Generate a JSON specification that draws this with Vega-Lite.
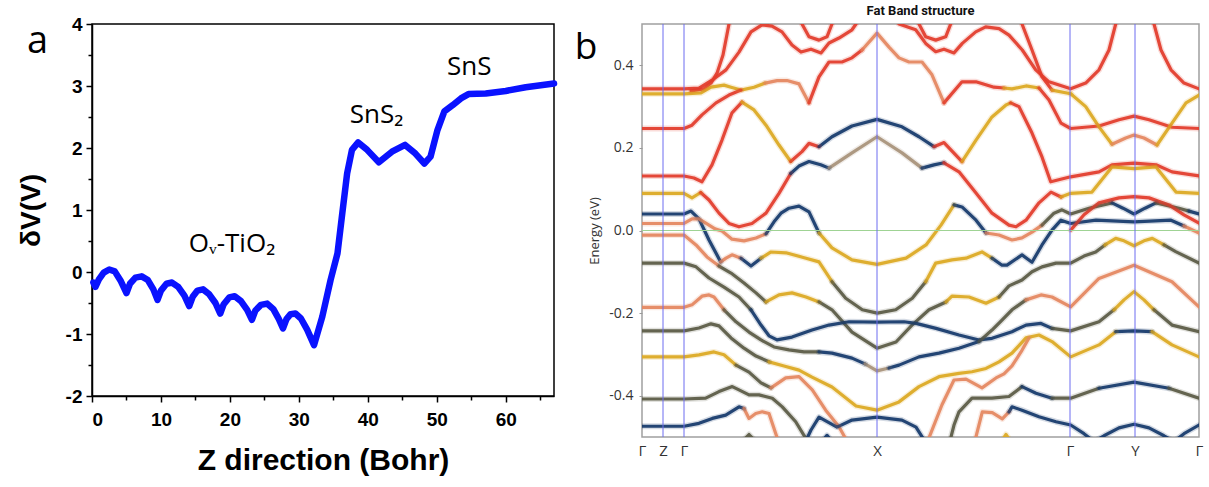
{
"$schema":"https://vega.github.io/schema/vega-lite/v6.json",
"background":"white",
"padding":{"left":16,"top":3,"right":0,"bottom":0},
"bounds":"flush",
"spacing":88,
"datasets":{
"dv":[{"z":0.2,"v":-0.17},{"z":0.5,"v":-0.24},{"z":1.0,"v":-0.12},{"z":1.7,"v":-0.01},{"z":2.5,"v":0.04},{"z":3.3,"v":0.01},{"z":4.2,"v":-0.15},{"z":5.0,"v":-0.34},{"z":5.5,"v":-0.19},{"z":6.3,"v":-0.09},{"z":7.2,"v":-0.07},{"z":8.1,"v":-0.13},{"z":8.9,"v":-0.28},{"z":9.5,"v":-0.45},{"z":10.0,"v":-0.30},{"z":10.8,"v":-0.19},{"z":11.6,"v":-0.17},{"z":12.5,"v":-0.24},{"z":13.4,"v":-0.38},{"z":14.1,"v":-0.55},{"z":14.6,"v":-0.40},{"z":15.3,"v":-0.30},{"z":16.1,"v":-0.28},{"z":17.0,"v":-0.36},{"z":17.9,"v":-0.50},{"z":18.6,"v":-0.67},{"z":19.1,"v":-0.52},{"z":19.9,"v":-0.41},{"z":20.7,"v":-0.39},{"z":21.6,"v":-0.47},{"z":22.5,"v":-0.61},{"z":23.2,"v":-0.77},{"z":23.7,"v":-0.62},{"z":24.5,"v":-0.53},{"z":25.4,"v":-0.51},{"z":26.3,"v":-0.60},{"z":27.1,"v":-0.76},{"z":27.7,"v":-0.91},{"z":28.2,"v":-0.76},{"z":28.8,"v":-0.68},{"z":29.5,"v":-0.67},{"z":30.3,"v":-0.75},{"z":31.2,"v":-0.93},{"z":32.2,"v":-1.18},{"z":33.4,"v":-0.72},{"z":34.6,"v":-0.13},{"z":35.6,"v":0.30},{"z":36.3,"v":0.95},{"z":37.0,"v":1.59},{"z":37.7,"v":1.97},{"z":38.6,"v":2.09},{"z":39.9,"v":1.97},{"z":41.6,"v":1.77},{"z":43.5,"v":1.94},{"z":45.4,"v":2.05},{"z":46.9,"v":1.91},{"z":48.2,"v":1.75},{"z":49.1,"v":1.86},{"z":50.1,"v":2.29},{"z":51.1,"v":2.59},{"z":52.3,"v":2.69},{"z":53.5,"v":2.80},{"z":54.6,"v":2.87},{"z":57.1,"v":2.88},{"z":60.0,"v":2.92},{"z":62.9,"v":2.98},{"z":67,"v":3.04}],
"bands":[
{"s":"1","p":"R","k":0,"e":0.343},{"s":"1","p":"R","k":42,"e":0.343},{"s":"1","p":"R","k":57,"e":0.345},{"s":"1","p":"R","k":70,"e":0.364},{"s":"1","p":"R","k":84,"e":0.389},{"s":"1","p":"R","k":97,"e":0.432},{"s":"1","p":"R","k":109,"e":0.481},{"s":"1","p":"R","k":120,"e":0.498},{"s":"1","p":"R","k":130,"e":0.495},{"s":"1","p":"R","k":140,"e":0.481},{"s":"1","p":"R","k":150,"e":0.449},{"s":"1","p":"R","k":159,"e":0.432},{"s":"1","p":"R","k":169,"e":0.439},{"s":"1","p":"R","k":179,"e":0.43},{"s":"1","p":"R","k":187,"e":0.454},{"s":"1","p":"R","k":197,"e":0.466},{"s":"1","p":"R","k":210,"e":0.486},{"s":"1","p":"R","k":214,"e":0.5},
{"s":"2","p":"R","k":49,"e":0.338},{"s":"2","p":"R","k":62,"e":0.343},{"s":"2","p":"R","k":69,"e":0.357},{"s":"2","p":"R","k":75,"e":0.381},{"s":"2","p":"R","k":81,"e":0.425},{"s":"2","p":"R","k":87,"e":0.5},
{"s":"3","p":"Y","k":0,"e":0.331},{"s":"3","p":"Y","k":42,"e":0.331},{"s":"3","p":"Y","k":59,"e":0.333},{"s":"3","p":"Y","k":69,"e":0.347},{"s":"3","p":"Y","k":82,"e":0.352},{"s":"3","p":"Y","k":89,"e":0.347},{"s":"3","p":"Y","k":99,"e":0.34},{"s":"3","p":"Y","k":112,"e":0.347},{"s":"3","p":"Y","k":123,"e":0.357},
{"s":"4","p":"R","k":0,"e":0.247},{"s":"4","p":"R","k":42,"e":0.247},{"s":"4","p":"R","k":50,"e":0.255},{"s":"4","p":"R","k":60,"e":0.28},{"s":"4","p":"R","k":74,"e":0.309},{"s":"4","p":"R","k":87,"e":0.328},{"s":"4","p":"R","k":99,"e":0.34},
{"s":"5","p":"O","k":123,"e":0.357},{"s":"5","p":"O","k":135,"e":0.363},{"s":"5","p":"O","k":145,"e":0.363},{"s":"5","p":"O","k":157,"e":0.355},{"s":"5","p":"O","k":167,"e":0.309},
{"s":"6","p":"R","k":167,"e":0.309},{"s":"6","p":"R","k":177,"e":0.372},{"s":"6","p":"R","k":187,"e":0.408},{"s":"6","p":"R","k":200,"e":0.408},{"s":"6","p":"R","k":210,"e":0.418},{"s":"6","p":"R","k":220,"e":0.437},
{"s":"7","p":"O","k":220,"e":0.437},{"s":"7","p":"O","k":235,"e":0.478},{"s":"7","p":"O","k":247,"e":0.444},{"s":"7","p":"O","k":257,"e":0.418},{"s":"7","p":"O","k":267,"e":0.408},{"s":"7","p":"O","k":280,"e":0.408},{"s":"7","p":"O","k":290,"e":0.377},{"s":"7","p":"O","k":302,"e":0.309},
{"s":"8","p":"R","k":302,"e":0.309},{"s":"8","p":"R","k":320,"e":0.36},{"s":"8","p":"R","k":334,"e":0.36},{"s":"8","p":"R","k":352,"e":0.347},{"s":"8","p":"R","k":362,"e":0.345},
{"s":"9","p":"Y","k":362,"e":0.345},{"s":"9","p":"Y","k":370,"e":0.343},{"s":"9","p":"Y","k":384,"e":0.35},{"s":"9","p":"Y","k":397,"e":0.345},
{"s":"10","p":"R","k":397,"e":0.345},{"s":"10","p":"R","k":407,"e":0.316},{"s":"10","p":"R","k":419,"e":0.26},{"s":"10","p":"R","k":428.7,"e":0.247},{"s":"10","p":"R","k":457,"e":0.253},{"s":"10","p":"R","k":477,"e":0.268},{"s":"10","p":"R","k":492,"e":0.277},{"s":"10","p":"R","k":507,"e":0.268},{"s":"10","p":"R","k":530,"e":0.25},{"s":"10","p":"R","k":557,"e":0.247},
{"s":"11","p":"R","k":160,"e":0.5},{"s":"11","p":"R","k":167,"e":0.469},{"s":"11","p":"R","k":177,"e":0.461},{"s":"11","p":"R","k":185,"e":0.469},{"s":"11","p":"R","k":190,"e":0.5},
{"s":"12","p":"R","k":277,"e":0.5},{"s":"12","p":"R","k":283.7,"e":0.469},{"s":"12","p":"R","k":293.7,"e":0.461},{"s":"12","p":"R","k":303.7,"e":0.469},{"s":"12","p":"R","k":308.7,"e":0.5},
{"s":"13","p":"R","k":257,"e":0.5},{"s":"13","p":"R","k":273.7,"e":0.486},{"s":"13","p":"R","k":283.7,"e":0.453},{"s":"13","p":"R","k":293.7,"e":0.433},{"s":"13","p":"R","k":302,"e":0.439},{"s":"13","p":"R","k":312,"e":0.43},{"s":"13","p":"R","k":320.3,"e":0.453},{"s":"13","p":"R","k":333.7,"e":0.481},{"s":"13","p":"R","k":343.7,"e":0.493},{"s":"13","p":"R","k":357,"e":0.489},{"s":"13","p":"R","k":367,"e":0.473},{"s":"13","p":"R","k":380.3,"e":0.437},{"s":"13","p":"R","k":393.7,"e":0.389},{"s":"13","p":"R","k":407,"e":0.36},{"s":"13","p":"R","k":428.7,"e":0.343},{"s":"13","p":"R","k":443.7,"e":0.357},{"s":"13","p":"R","k":457,"e":0.389},{"s":"13","p":"R","k":467,"e":0.437},{"s":"13","p":"R","k":473.7,"e":0.5},
{"s":"14a","p":"R","k":380,"e":0.5},{"s":"14a","p":"R","k":390,"e":0.437},{"s":"14a","p":"R","k":400,"e":0.372},{"s":"14a","p":"R","k":410,"e":0.34},
{"s":"14b","p":"Y","k":410,"e":0.34},{"s":"14b","p":"Y","k":428.7,"e":0.331},
{"s":"15a","p":"Y","k":428.7,"e":0.331},{"s":"15a","p":"Y","k":443.7,"e":0.3},{"s":"15a","p":"Y","k":457,"e":0.251},{"s":"15a","p":"Y","k":470,"e":0.209},
{"s":"15b","p":"O","k":470,"e":0.209},{"s":"15b","p":"O","k":483.7,"e":0.224},{"s":"15b","p":"O","k":492,"e":0.231},{"s":"15b","p":"O","k":502,"e":0.224},{"s":"15b","p":"O","k":515,"e":0.207},
{"s":"15c","p":"Y","k":515,"e":0.207},{"s":"15c","p":"Y","k":530,"e":0.26},{"s":"15c","p":"Y","k":544,"e":0.309},{"s":"15c","p":"Y","k":557,"e":0.328},
{"s":"16","p":"R","k":512,"e":0.5},{"s":"16","p":"R","k":519,"e":0.437},{"s":"16","p":"R","k":529,"e":0.389},{"s":"16","p":"R","k":542,"e":0.357},{"s":"16","p":"R","k":557,"e":0.343},
{"s":"17a","p":"R","k":0,"e":0.132},{"s":"17a","p":"R","k":42,"e":0.132},{"s":"17a","p":"R","k":52,"e":0.127},{"s":"17a","p":"R","k":60,"e":0.118},{"s":"17a","p":"R","k":70,"e":0.159},{"s":"17a","p":"R","k":80,"e":0.219},{"s":"17a","p":"R","k":90,"e":0.285},{"s":"17a","p":"R","k":100,"e":0.311},
{"s":"17b","p":"Y","k":100,"e":0.311},{"s":"17b","p":"Y","k":112,"e":0.292},{"s":"17b","p":"Y","k":124,"e":0.255},{"s":"17b","p":"Y","k":137,"e":0.207},{"s":"17b","p":"Y","k":148.7,"e":0.167},
{"s":"17c","p":"R","k":148.7,"e":0.167},{"s":"17c","p":"R","k":160,"e":0.191},{"s":"17c","p":"R","k":167,"e":0.211},{"s":"17c","p":"R","k":177,"e":0.203},
{"s":"17d","p":"N","k":177,"e":0.203},{"s":"17d","p":"N","k":190,"e":0.227},{"s":"17d","p":"N","k":210,"e":0.253},{"s":"17d","p":"N","k":235,"e":0.269},{"s":"17d","p":"N","k":260,"e":0.251},{"s":"17d","p":"N","k":277,"e":0.227},{"s":"17d","p":"N","k":292,"e":0.203},
{"s":"17e","p":"R","k":292,"e":0.203},{"s":"17e","p":"R","k":302,"e":0.213},{"s":"17e","p":"R","k":320,"e":0.167},
{"s":"17f","p":"Y","k":320,"e":0.167},{"s":"17f","p":"Y","k":334,"e":0.219},{"s":"17f","p":"Y","k":350,"e":0.275},{"s":"17f","p":"Y","k":364,"e":0.304},{"s":"17f","p":"Y","k":368.7,"e":0.309},
{"s":"17g","p":"R","k":368.7,"e":0.309},{"s":"17g","p":"R","k":377,"e":0.3},{"s":"17g","p":"R","k":390,"e":0.236},{"s":"17g","p":"R","k":400,"e":0.178},{"s":"17g","p":"R","k":408.7,"e":0.118},{"s":"17g","p":"R","k":428.7,"e":0.13},{"s":"17g","p":"R","k":457,"e":0.142},{"s":"17g","p":"R","k":470,"e":0.159},{"s":"17g","p":"R","k":492,"e":0.163},{"s":"17g","p":"R","k":514,"e":0.159},{"s":"17g","p":"R","k":530,"e":0.142},{"s":"17g","p":"R","k":557,"e":0.132},
{"s":"18a","p":"Y","k":0,"e":0.09},{"s":"18a","p":"Y","k":42,"e":0.09},{"s":"18a","p":"Y","k":50,"e":0.079},{"s":"18a","p":"Y","k":58.7,"e":0.092},
{"s":"18b","p":"R","k":58.7,"e":0.092},{"s":"18b","p":"R","k":67,"e":0.074},{"s":"18b","p":"R","k":77,"e":0.042},{"s":"18b","p":"R","k":87,"e":0.017},{"s":"18b","p":"R","k":97,"e":0.009},{"s":"18b","p":"R","k":110,"e":0.017},{"s":"18b","p":"R","k":124,"e":0.042},{"s":"18b","p":"R","k":137,"e":0.09},{"s":"18b","p":"R","k":148.7,"e":0.138},
{"s":"18c","p":"N","k":148.7,"e":0.138},{"s":"18c","p":"N","k":157,"e":0.156},{"s":"18c","p":"N","k":167,"e":0.167},{"s":"18c","p":"N","k":178.7,"e":0.159},{"s":"18c","p":"N","k":187,"e":0.151},
{"s":"18d","p":"T","k":187,"e":0.151},{"s":"18d","p":"T","k":210,"e":0.188},{"s":"18d","p":"T","k":235,"e":0.227},{"s":"18d","p":"T","k":260,"e":0.188},{"s":"18d","p":"T","k":280,"e":0.151},
{"s":"18e","p":"N","k":280,"e":0.151},{"s":"18e","p":"N","k":292,"e":0.159},{"s":"18e","p":"N","k":302,"e":0.164},
{"s":"18f","p":"R","k":302,"e":0.164},{"s":"18f","p":"R","k":317,"e":0.142},{"s":"18f","p":"R","k":334,"e":0.091},{"s":"18f","p":"R","k":350,"e":0.042},{"s":"18f","p":"R","k":367,"e":0.013},{"s":"18f","p":"R","k":374,"e":0.009},{"s":"18f","p":"R","k":384,"e":0.025},{"s":"18f","p":"R","k":397,"e":0.067},{"s":"18f","p":"R","k":409,"e":0.093},{"s":"18f","p":"R","k":419,"e":0.081},
{"s":"18g","p":"Y","k":419,"e":0.081},{"s":"18g","p":"Y","k":428.7,"e":0.09},{"s":"18g","p":"Y","k":450,"e":0.093},{"s":"18g","p":"Y","k":470,"e":0.154},{"s":"18g","p":"Y","k":492,"e":0.15},{"s":"18g","p":"Y","k":514,"e":0.154},{"s":"18g","p":"Y","k":534,"e":0.093},{"s":"18g","p":"Y","k":557,"e":0.09},
{"s":"19a","p":"N","k":0,"e":0.04},{"s":"19a","p":"N","k":42,"e":0.04},{"s":"19a","p":"N","k":49,"e":0.047},{"s":"19a","p":"N","k":57,"e":0.028},{"s":"19a","p":"N","k":67,"e":-0.023},{"s":"19a","p":"N","k":78.7,"e":-0.076},
{"s":"19b","p":"O","k":78.7,"e":-0.076},{"s":"19b","p":"O","k":84,"e":-0.067},{"s":"19b","p":"O","k":90,"e":-0.059},{"s":"19b","p":"O","k":99,"e":-0.067},
{"s":"19c","p":"N","k":99,"e":-0.067},{"s":"19c","p":"N","k":109,"e":-0.086},{"s":"19c","p":"N","k":119,"e":-0.067},
{"s":"19d","p":"Y","k":119,"e":-0.067},{"s":"19d","p":"Y","k":129,"e":-0.052},{"s":"19d","p":"Y","k":144,"e":-0.054},{"s":"19d","p":"Y","k":164,"e":-0.067},{"s":"19d","p":"Y","k":177,"e":-0.076},{"s":"19d","p":"Y","k":190,"e":-0.124},
{"s":"19e","p":"G","k":190,"e":-0.124},{"s":"19e","p":"G","k":203.7,"e":-0.164},{"s":"19e","p":"G","k":220.3,"e":-0.192},{"s":"19e","p":"G","k":235.3,"e":-0.2},{"s":"19e","p":"G","k":253.7,"e":-0.192},{"s":"19e","p":"G","k":270.3,"e":-0.164},{"s":"19e","p":"G","k":283.7,"e":-0.124},
{"s":"19f","p":"Y","k":283.7,"e":-0.124},{"s":"19f","p":"Y","k":293.7,"e":-0.079},{"s":"19f","p":"Y","k":310,"e":-0.071},{"s":"19f","p":"Y","k":324,"e":-0.067},{"s":"19f","p":"Y","k":340,"e":-0.052},{"s":"19f","p":"Y","k":350,"e":-0.067},
{"s":"19g","p":"N","k":350,"e":-0.067},{"s":"19g","p":"N","k":360,"e":-0.084},{"s":"19g","p":"N","k":365,"e":-0.084},{"s":"19g","p":"N","k":380,"e":-0.059},{"s":"19g","p":"N","k":390,"e":-0.077},{"s":"19g","p":"N","k":400,"e":-0.035},{"s":"19g","p":"N","k":410,"e":0.001},{"s":"19g","p":"N","k":419,"e":0.025},{"s":"19g","p":"N","k":428.7,"e":0.017},{"s":"19g","p":"N","k":454,"e":0.025},{"s":"19g","p":"N","k":492,"e":0.021},{"s":"19g","p":"N","k":529,"e":0.025},{"s":"19g","p":"N","k":542,"e":0.011},
{"s":"19h","p":"O","k":542,"e":0.011},{"s":"19h","p":"O","k":557,"e":-0.006},
{"s":"20a","p":"O","k":0,"e":0.017},{"s":"20a","p":"O","k":42,"e":0.017},{"s":"20a","p":"O","k":50,"e":0.028},{"s":"20a","p":"O","k":57,"e":0.028},{"s":"20a","p":"O","k":65,"e":0.016},{"s":"20a","p":"O","k":73,"e":0.004},{"s":"20a","p":"O","k":80,"e":-0.001},{"s":"20a","p":"O","k":90,"e":-0.021},{"s":"20a","p":"O","k":102,"e":-0.025},{"s":"20a","p":"O","k":114,"e":-0.018},{"s":"20a","p":"O","k":124,"e":-0.008},
{"s":"20b","p":"N","k":124,"e":-0.008},{"s":"20b","p":"N","k":132,"e":0.021},{"s":"20b","p":"N","k":139,"e":0.042},{"s":"20b","p":"N","k":147,"e":0.054},{"s":"20b","p":"N","k":157,"e":0.059},{"s":"20b","p":"N","k":167,"e":0.045},{"s":"20b","p":"N","k":177,"e":-0.006},
{"s":"20c","p":"Y","k":177,"e":-0.006},{"s":"20c","p":"Y","k":190,"e":-0.042},{"s":"20c","p":"Y","k":210,"e":-0.071},{"s":"20c","p":"Y","k":235,"e":-0.082},{"s":"20c","p":"Y","k":264,"e":-0.067},{"s":"20c","p":"Y","k":284,"e":-0.035},{"s":"20c","p":"Y","k":299,"e":0.013},{"s":"20c","p":"Y","k":312,"e":0.062},
{"s":"20d","p":"N","k":312,"e":0.062},{"s":"20d","p":"N","k":320,"e":0.057},{"s":"20d","p":"N","k":334,"e":0.025},{"s":"20d","p":"N","k":344,"e":-0.006},
{"s":"20e","p":"O","k":344,"e":-0.006},{"s":"20e","p":"O","k":357,"e":-0.011},{"s":"20e","p":"O","k":370,"e":-0.023},{"s":"20e","p":"O","k":380,"e":-0.018},{"s":"20e","p":"O","k":390,"e":-0.004},{"s":"20e","p":"O","k":400,"e":0.013},
{"s":"20f","p":"G","k":400,"e":0.013},{"s":"20f","p":"G","k":412,"e":0.042},{"s":"20f","p":"G","k":420,"e":0.05},{"s":"20f","p":"G","k":428.7,"e":0.04},{"s":"20f","p":"G","k":447,"e":0.054},{"s":"20f","p":"G","k":470,"e":0.067},
{"s":"20g","p":"N","k":470,"e":0.067},{"s":"20g","p":"N","k":481,"e":0.054},{"s":"20g","p":"N","k":492,"e":0.04},{"s":"20g","p":"N","k":503,"e":0.054},{"s":"20g","p":"N","k":514,"e":0.067},
{"s":"20h","p":"G","k":514,"e":0.067},{"s":"20h","p":"G","k":537,"e":0.054},{"s":"20h","p":"G","k":547,"e":0.047},
{"s":"20i","p":"N","k":547,"e":0.047},{"s":"20i","p":"N","k":557,"e":0.04},
{"s":"21","p":"R","k":428.7,"e":0.001},{"s":"21","p":"R","k":442,"e":0.038},{"s":"21","p":"R","k":457,"e":0.067},{"s":"21","p":"R","k":477,"e":0.079},{"s":"21","p":"R","k":492,"e":0.082},{"s":"21","p":"R","k":507,"e":0.079},{"s":"21","p":"R","k":527,"e":0.062},{"s":"21","p":"R","k":542,"e":0.038},{"s":"21","p":"R","k":557,"e":0.018},
{"s":"22a","p":"O","k":0,"e":-0.011},{"s":"22a","p":"O","k":42,"e":-0.011},{"s":"22a","p":"O","k":54,"e":-0.035},{"s":"22a","p":"O","k":65,"e":-0.064},{"s":"22a","p":"O","k":77,"e":-0.086},
{"s":"22b","p":"G","k":77,"e":-0.086},{"s":"22b","p":"G","k":89,"e":-0.103},{"s":"22b","p":"G","k":102,"e":-0.127},{"s":"22b","p":"G","k":114,"e":-0.151},{"s":"22b","p":"G","k":124,"e":-0.173},
{"s":"22c","p":"Y","k":124,"e":-0.173},{"s":"22c","p":"Y","k":137,"e":-0.156},{"s":"22c","p":"Y","k":150,"e":-0.151},{"s":"22c","p":"Y","k":164,"e":-0.161},{"s":"22c","p":"Y","k":177,"e":-0.173},
{"s":"22d","p":"G","k":177,"e":-0.173},{"s":"22d","p":"G","k":190,"e":-0.192},{"s":"22d","p":"G","k":210,"e":-0.246},{"s":"22d","p":"G","k":235,"e":-0.285},{"s":"22d","p":"G","k":254,"e":-0.27},{"s":"22d","p":"G","k":270,"e":-0.229},{"s":"22d","p":"G","k":287,"e":-0.192},{"s":"22d","p":"G","k":304,"e":-0.173},
{"s":"22e","p":"Y","k":304,"e":-0.173},{"s":"22e","p":"Y","k":310,"e":-0.159},{"s":"22e","p":"Y","k":327,"e":-0.161},{"s":"22e","p":"Y","k":344,"e":-0.176},{"s":"22e","p":"Y","k":357,"e":-0.161},
{"s":"22f","p":"G","k":357,"e":-0.161},{"s":"22f","p":"G","k":367,"e":-0.134},{"s":"22f","p":"G","k":380,"e":-0.12},{"s":"22f","p":"G","k":390,"e":-0.1},{"s":"22f","p":"G","k":400,"e":-0.088},{"s":"22f","p":"G","k":414,"e":-0.079},{"s":"22f","p":"G","k":428.7,"e":-0.079},{"s":"22f","p":"G","k":442,"e":-0.062},{"s":"22f","p":"G","k":453.7,"e":-0.052},{"s":"22f","p":"G","k":463,"e":-0.035},
{"s":"22g","p":"Y","k":463,"e":-0.035},{"s":"22g","p":"Y","k":473.7,"e":-0.019},{"s":"22g","p":"Y","k":482,"e":-0.025},{"s":"22g","p":"Y","k":492,"e":-0.037},{"s":"22g","p":"Y","k":502,"e":-0.025},{"s":"22g","p":"Y","k":510.3,"e":-0.019},{"s":"22g","p":"Y","k":522,"e":-0.035},
{"s":"22h","p":"G","k":522,"e":-0.035},{"s":"22h","p":"G","k":533.7,"e":-0.051},{"s":"22h","p":"G","k":557,"e":-0.079},
{"s":"23a","p":"G","k":0,"e":-0.079},{"s":"23a","p":"G","k":42,"e":-0.079},{"s":"23a","p":"G","k":54,"e":-0.088},{"s":"23a","p":"G","k":67,"e":-0.115},{"s":"23a","p":"G","k":82,"e":-0.137},{"s":"23a","p":"G","k":97,"e":-0.161},{"s":"23a","p":"G","k":109,"e":-0.192},
{"s":"23b","p":"N","k":109,"e":-0.192},{"s":"23b","p":"N","k":119,"e":-0.229},{"s":"23b","p":"N","k":127,"e":-0.255},{"s":"23b","p":"N","k":135,"e":-0.265},{"s":"23b","p":"N","k":150,"e":-0.258},{"s":"23b","p":"N","k":170,"e":-0.241},{"s":"23b","p":"N","k":187,"e":-0.229},{"s":"23b","p":"N","k":207,"e":-0.221},{"s":"23b","p":"N","k":235,"e":-0.222},{"s":"23b","p":"N","k":262,"e":-0.221},{"s":"23b","p":"N","k":274,"e":-0.225},{"s":"23b","p":"N","k":294,"e":-0.237},{"s":"23b","p":"N","k":317,"e":-0.253},{"s":"23b","p":"N","k":337,"e":-0.265},{"s":"23b","p":"N","k":350,"e":-0.261},{"s":"23b","p":"N","k":370,"e":-0.245},{"s":"23b","p":"N","k":384,"e":-0.229},{"s":"23b","p":"N","k":399,"e":-0.225},{"s":"23b","p":"N","k":410,"e":-0.237},
{"s":"23c","p":"G","k":410,"e":-0.237},{"s":"23c","p":"G","k":428.7,"e":-0.243},{"s":"23c","p":"G","k":457,"e":-0.221},{"s":"23c","p":"G","k":472,"e":-0.192},
{"s":"23d","p":"Y","k":472,"e":-0.192},{"s":"23d","p":"Y","k":482,"e":-0.168},{"s":"23d","p":"Y","k":492,"e":-0.148},{"s":"23d","p":"Y","k":502,"e":-0.168},{"s":"23d","p":"Y","k":512,"e":-0.192},
{"s":"23e","p":"G","k":512,"e":-0.192},{"s":"23e","p":"G","k":530,"e":-0.229},{"s":"23e","p":"G","k":557,"e":-0.245},
{"s":"24a","p":"O","k":0,"e":-0.186},{"s":"24a","p":"O","k":42,"e":-0.186},{"s":"24a","p":"O","k":50,"e":-0.18},{"s":"24a","p":"O","k":60,"e":-0.159},{"s":"24a","p":"O","k":67,"e":-0.156},{"s":"24a","p":"O","k":72,"e":-0.161},{"s":"24a","p":"O","k":82,"e":-0.192},
{"s":"24b","p":"G","k":82,"e":-0.192},{"s":"24b","p":"G","k":94,"e":-0.221},{"s":"24b","p":"G","k":107,"e":-0.246},{"s":"24b","p":"G","k":119,"e":-0.265},{"s":"24b","p":"G","k":132,"e":-0.282},{"s":"24b","p":"G","k":147,"e":-0.289},{"s":"24b","p":"G","k":162,"e":-0.294},{"s":"24b","p":"G","k":177,"e":-0.294},
{"s":"24c","p":"N","k":177,"e":-0.294},{"s":"24c","p":"N","k":190,"e":-0.297},{"s":"24c","p":"N","k":210,"e":-0.309},{"s":"24c","p":"N","k":223,"e":-0.323},
{"s":"24d","p":"T","k":223,"e":-0.323},{"s":"24d","p":"T","k":235,"e":-0.34},{"s":"24d","p":"T","k":247,"e":-0.333},
{"s":"24e","p":"N","k":247,"e":-0.333},{"s":"24e","p":"N","k":257,"e":-0.326},{"s":"24e","p":"N","k":277,"e":-0.306},{"s":"24e","p":"N","k":297,"e":-0.297},{"s":"24e","p":"N","k":317,"e":-0.285},{"s":"24e","p":"N","k":337,"e":-0.269},
{"s":"24f","p":"G","k":337,"e":-0.269},{"s":"24f","p":"G","k":350,"e":-0.241},{"s":"24f","p":"G","k":360,"e":-0.217},{"s":"24f","p":"G","k":370,"e":-0.192},{"s":"24f","p":"G","k":384,"e":-0.168},
{"s":"24g","p":"O","k":384,"e":-0.168},{"s":"24g","p":"O","k":399,"e":-0.156},{"s":"24g","p":"O","k":410,"e":-0.161},{"s":"24g","p":"O","k":428.7,"e":-0.185},{"s":"24g","p":"O","k":457,"e":-0.116},{"s":"24g","p":"O","k":492,"e":-0.084},{"s":"24g","p":"O","k":530,"e":-0.124},{"s":"24g","p":"O","k":557,"e":-0.185},
{"s":"25a","p":"G","k":0,"e":-0.243},{"s":"25a","p":"G","k":42,"e":-0.243},{"s":"25a","p":"G","k":57,"e":-0.236},{"s":"25a","p":"G","k":69,"e":-0.226},{"s":"25a","p":"G","k":77,"e":-0.231},{"s":"25a","p":"G","k":89,"e":-0.26},{"s":"25a","p":"G","k":102,"e":-0.285},{"s":"25a","p":"G","k":114,"e":-0.304},{"s":"25a","p":"G","k":127,"e":-0.318},
{"s":"25b","p":"Y","k":127,"e":-0.318},{"s":"25b","p":"Y","k":142,"e":-0.328},{"s":"25b","p":"Y","k":157,"e":-0.338},{"s":"25b","p":"Y","k":170,"e":-0.355},{"s":"25b","p":"Y","k":190,"e":-0.379},{"s":"25b","p":"Y","k":214,"e":-0.425},{"s":"25b","p":"Y","k":235,"e":-0.435},{"s":"25b","p":"Y","k":257,"e":-0.415},{"s":"25b","p":"Y","k":277,"e":-0.378},{"s":"25b","p":"Y","k":297,"e":-0.354},{"s":"25b","p":"Y","k":317,"e":-0.346},{"s":"25b","p":"Y","k":330,"e":-0.342},{"s":"25b","p":"Y","k":344,"e":-0.334},{"s":"25b","p":"Y","k":357,"e":-0.318},{"s":"25b","p":"Y","k":370,"e":-0.297},{"s":"25b","p":"Y","k":384,"e":-0.26},{"s":"25b","p":"Y","k":397,"e":-0.253},{"s":"25b","p":"Y","k":410,"e":-0.269},{"s":"25b","p":"Y","k":428.7,"e":-0.306},{"s":"25b","p":"Y","k":457,"e":-0.277},{"s":"25b","p":"Y","k":473.7,"e":-0.245},
{"s":"25c","p":"N","k":473.7,"e":-0.245},{"s":"25c","p":"N","k":492,"e":-0.243},{"s":"25c","p":"N","k":510,"e":-0.245},
{"s":"25d","p":"Y","k":510,"e":-0.245},{"s":"25d","p":"Y","k":530,"e":-0.277},{"s":"25d","p":"Y","k":557,"e":-0.306},
{"s":"26a","p":"Y","k":0,"e":-0.306},{"s":"26a","p":"Y","k":42,"e":-0.306},{"s":"26a","p":"Y","k":57,"e":-0.301},{"s":"26a","p":"Y","k":72,"e":-0.294},{"s":"26a","p":"Y","k":82,"e":-0.301},{"s":"26a","p":"Y","k":94,"e":-0.326},
{"s":"26b","p":"G","k":94,"e":-0.326},{"s":"26b","p":"G","k":107,"e":-0.343},{"s":"26b","p":"G","k":119,"e":-0.369},{"s":"26b","p":"G","k":129,"e":-0.381},
{"s":"26c","p":"O","k":129,"e":-0.381},{"s":"26c","p":"O","k":143.7,"e":-0.357},{"s":"26c","p":"O","k":157,"e":-0.354},{"s":"26c","p":"O","k":170.3,"e":-0.386},{"s":"26c","p":"O","k":183.7,"e":-0.435},{"s":"26c","p":"O","k":197,"e":-0.475},{"s":"26c","p":"O","k":207,"e":-0.519},
{"s":"27","p":"G","k":0,"e":-0.408},{"s":"27","p":"G","k":42,"e":-0.408},{"s":"27","p":"G","k":63.7,"e":-0.406},{"s":"27","p":"G","k":77,"e":-0.39},{"s":"27","p":"G","k":90.3,"e":-0.378},{"s":"27","p":"G","k":97,"e":-0.386},{"s":"27","p":"G","k":107,"e":-0.398},{"s":"27","p":"G","k":117,"e":-0.398},{"s":"27","p":"G","k":130.3,"e":-0.406},{"s":"27","p":"G","k":140.3,"e":-0.427},{"s":"27","p":"G","k":153.7,"e":-0.463},{"s":"27","p":"G","k":163.7,"e":-0.503},{"s":"27","p":"G","k":167,"e":-0.519},
{"s":"28a","p":"N","k":0,"e":-0.474},{"s":"28a","p":"N","k":42,"e":-0.474},{"s":"28a","p":"N","k":57,"e":-0.467},{"s":"28a","p":"N","k":70.3,"e":-0.455},{"s":"28a","p":"N","k":83.7,"e":-0.447},{"s":"28a","p":"N","k":97,"e":-0.427},{"s":"28a","p":"N","k":102,"e":-0.431},
{"s":"28b","p":"O","k":102,"e":-0.431},{"s":"28b","p":"O","k":107,"e":-0.455},{"s":"28b","p":"O","k":113.7,"e":-0.443},{"s":"28b","p":"O","k":120.3,"e":-0.439},{"s":"28b","p":"O","k":127,"e":-0.443},{"s":"28b","p":"O","k":135.3,"e":-0.503},{"s":"28b","p":"O","k":138,"e":-0.519},
{"s":"29","p":"N","k":162,"e":-0.519},{"s":"29","p":"N","k":169,"e":-0.483},{"s":"29","p":"N","k":177,"e":-0.452},{"s":"29","p":"N","k":195,"e":-0.476},{"s":"29","p":"N","k":210,"e":-0.459},{"s":"29","p":"N","k":235,"e":-0.452},{"s":"29","p":"N","k":260,"e":-0.459},{"s":"29","p":"N","k":274,"e":-0.476},{"s":"29","p":"N","k":282,"e":-0.507},{"s":"29","p":"N","k":285,"e":-0.519},
{"s":"30a","p":"G","k":307,"e":-0.519},{"s":"30a","p":"G","k":312,"e":-0.471},{"s":"30a","p":"G","k":317,"e":-0.439},{"s":"30a","p":"G","k":330,"e":-0.406},{"s":"30a","p":"G","k":350,"e":-0.406},{"s":"30a","p":"G","k":367,"e":-0.402},{"s":"30a","p":"G","k":380,"e":-0.378},
{"s":"30b","p":"N","k":380,"e":-0.378},{"s":"30b","p":"N","k":394,"e":-0.394},{"s":"30b","p":"N","k":410,"e":-0.406},
{"s":"30c","p":"G","k":410,"e":-0.406},{"s":"30c","p":"G","k":428.7,"e":-0.406},{"s":"30c","p":"G","k":457,"e":-0.382},
{"s":"30d","p":"N","k":457,"e":-0.382},{"s":"30d","p":"N","k":492,"e":-0.367},{"s":"30d","p":"N","k":527,"e":-0.382},
{"s":"30e","p":"G","k":527,"e":-0.382},{"s":"30e","p":"G","k":557,"e":-0.406},
{"s":"31a","p":"O","k":331,"e":-0.519},{"s":"31a","p":"O","k":333.7,"e":-0.502},{"s":"31a","p":"O","k":340.3,"e":-0.439},{"s":"31a","p":"O","k":350.3,"e":-0.441},{"s":"31a","p":"O","k":360.3,"e":-0.456},{"s":"31a","p":"O","k":367,"e":-0.439},
{"s":"31b","p":"N","k":367,"e":-0.439},{"s":"31b","p":"N","k":370,"e":-0.427},{"s":"31b","p":"N","k":380,"e":-0.435},{"s":"31b","p":"N","k":397,"e":-0.451},{"s":"31b","p":"N","k":414,"e":-0.463},{"s":"31b","p":"N","k":428.7,"e":-0.471},{"s":"31b","p":"N","k":442,"e":-0.492},{"s":"31b","p":"N","k":452,"e":-0.511},{"s":"31b","p":"N","k":462,"e":-0.497},{"s":"31b","p":"N","k":477,"e":-0.478},{"s":"31b","p":"N","k":492,"e":-0.469},{"s":"31b","p":"N","k":507,"e":-0.478},{"s":"31b","p":"N","k":522,"e":-0.497},{"s":"31b","p":"N","k":532,"e":-0.511},{"s":"31b","p":"N","k":542,"e":-0.492},{"s":"31b","p":"N","k":557,"e":-0.471},
{"s":"32","p":"O","k":283.7,"e":-0.519},{"s":"32","p":"O","k":287,"e":-0.502},{"s":"32","p":"O","k":300,"e":-0.422},{"s":"32","p":"O","k":312,"e":-0.362},{"s":"32","p":"O","k":324,"e":-0.36},{"s":"32","p":"O","k":340,"e":-0.381},{"s":"32","p":"O","k":354,"e":-0.357},{"s":"32","p":"O","k":362,"e":-0.347},{"s":"32","p":"O","k":370,"e":-0.328},{"s":"32","p":"O","k":379,"e":-0.294},{"s":"32","p":"O","k":387,"e":-0.26},
{"s":"b1","p":"G","k":97,"e":-0.519},{"s":"b1","p":"G","k":107,"e":-0.494},{"s":"b1","p":"G","k":117,"e":-0.519},
{"s":"b2","p":"N","k":177,"e":-0.519},{"s":"b2","p":"N","k":185,"e":-0.496},{"s":"b2","p":"N","k":193,"e":-0.519},
{"s":"b3","p":"Y","k":357,"e":-0.519},{"s":"b3","p":"Y","k":364,"e":-0.494},{"s":"b3","p":"Y","k":371,"e":-0.519}
]
},
"hconcat":[
{
"width":462,"height":372,
"view":{"stroke":"black","strokeWidth":1.5},
"resolve":{"axis":{"x":"independent","y":"independent"}},
"layer":[
{"data":{"name":"dv"},
"mark":{"type":"line","color":"#0a12ff","strokeWidth":6.5,"strokeCap":"round","strokeJoin":"round"},
"encoding":{
"x":{"field":"z","type":"quantitative","scale":{"domain":[0,67],"nice":false,"zero":false},
"axis":{"orient":"bottom","title":"Z direction (Bohr)","values":[0,10,20,30,40,50,60],"labelFont":"Liberation Sans","labelFontSize":19,"labelFontWeight":"bold","labelColor":"black","labelPadding":8,"tickColor":"black","tickWidth":1.5,"tickSize":6,"domainColor":"black","domainWidth":1.5,"grid":false,"titleFont":"Liberation Sans","titleFontSize":30,"titleFontWeight":"bold","titleColor":"black","titlePadding":16}},
"y":{"field":"v","type":"quantitative","scale":{"domain":[-2,4],"nice":false,"zero":false},
"axis":{"orient":"left","title":"δV(V)","values":[-2,-1,0,1,2,3,4],"labelExpr":"'' + datum.value","labelFont":"Liberation Sans","labelFontSize":19,"labelFontWeight":"bold","labelColor":"black","labelPadding":4,"tickColor":"black","tickWidth":1.5,"tickSize":6,"domainColor":"black","domainWidth":1.5,"grid":false,"titleFont":"Liberation Sans","titleFontSize":28,"titleFontWeight":"bold","titleColor":"black","titlePadding":20}}
}},
{"data":{"values":[{"z":20.3,"v":0.33,"t":"Oᵥ-TiO₂"},{"z":41.25,"v":2.4,"t":"SnS₂"},{"z":54.7,"v":3.18,"t":"SnS"}]},
"mark":{"type":"text","font":"Open Sans","fontSize":26,"align":"center","baseline":"alphabetic","color":"black"},
"encoding":{
"x":{"field":"z","type":"quantitative","axis":{"orient":"bottom","values":[5,15,25,35,45,55,65],"labels":false,"title":null,"domain":false,"grid":false,"tickColor":"black","tickWidth":1.5,"tickSize":4}},
"y":{"field":"v","type":"quantitative","axis":{"orient":"left","values":[-1.5,-0.5,0.5,1.5,2.5,3.5],"labels":false,"title":null,"domain":false,"grid":false,"tickColor":"black","tickWidth":1.5,"tickSize":4}},
"text":{"field":"t"}}},
{"data":{"values":[{"z":-7.9,"v":3.53,"t":"a"}]},
"mark":{"type":"text","font":"Open Sans","fontSize":38,"align":"center","baseline":"alphabetic","color":"black"},
"encoding":{"x":{"field":"z","type":"quantitative","axis":null},"y":{"field":"v","type":"quantitative","axis":null},"text":{"field":"t"}}}
]
},
{
"width":557,"height":413,
"view":{"stroke":"#a0a0a0","strokeWidth":1.5},
"title":{"text":"Fat Band structure","font":"Roboto","fontSize":13,"fontWeight":"bold","color":"#111","offset":6},
"resolve":{"axis":{"x":"independent","y":"independent"}},
"layer":[
{"data":{"name":"bands"},
"mark":{"type":"line","strokeWidth":3.2,"clip":true,"strokeCap":"round","strokeJoin":"round","opacity":0.92},
"encoding":{
"x":{"field":"k","type":"quantitative","scale":{"domain":[0,557],"nice":false,"zero":false},
"axis":{"orient":"bottom","values":[0,21,42,235,428,493,557],"labelExpr":"datum.value == 21 ? 'Z' : datum.value == 235 ? 'X' : datum.value == 493 ? 'Y' : 'Γ'","title":null,"ticks":false,"domain":false,"grid":false,"labelFont":"Open Sans","labelFontSize":15,"labelColor":"#333","labelPadding":6,"labelOverlap":false,"labelBound":false,"labelFlush":false}},
"y":{"field":"e","type":"quantitative","scale":{"domain":[-0.5,0.5],"nice":false,"zero":false},
"axis":{"orient":"left","values":[-0.4,-0.2,0,0.2,0.4],"labelExpr":"datum.value == 0 ? '0.0' : (datum.value < 0 ? '-' : '') + format(abs(datum.value), '.1f')","title":"Energy (eV)","titleFont":"Open Sans","titleFontSize":13,"titleFontWeight":"normal","titleColor":"#333","titlePadding":7,"labelFont":"Open Sans","labelFontSize":14,"labelColor":"#333","labelPadding":6,"tickSize":3,"tickColor":"#999","domain":false,"grid":false}},
"detail":{"field":"s"},
"color":{"field":"p","type":"nominal","scale":{"domain":["R","O","Y","N","G","T"],"range":["#e23b2a","#e5875f","#dca922","#15386b","#5a5a44","#a8927a"]},"legend":null}
}},
{"data":{"name":"bands"},
"mark":{"type":"line","strokeWidth":6,"clip":true,"strokeCap":"round","strokeJoin":"round","opacity":0.18},
"encoding":{
"x":{"field":"k","type":"quantitative","axis":null},
"y":{"field":"e","type":"quantitative","axis":null},
"detail":{"field":"s"},
"color":{"field":"p","type":"nominal","legend":null}
}},
{"data":{"values":[{"e":0}]},
"mark":{"type":"rule","color":"#9fd394","strokeWidth":1.2},"encoding":{"y":{"field":"e","type":"quantitative","axis":null}}},
{"data":{"values":[{"k":21},{"k":42},{"k":235},{"k":428},{"k":493}]},
"mark":{"type":"rule","color":"#6c6cf0","strokeWidth":1},"encoding":{"x":{"field":"k","type":"quantitative","axis":null}}},
{"data":{"values":[{"k":-56,"e":0.415,"t":"b"}]},
"mark":{"type":"text","font":"Open Sans","fontSize":37,"align":"center","baseline":"alphabetic","color":"black"},
"encoding":{"x":{"field":"k","type":"quantitative","axis":null},"y":{"field":"e","type":"quantitative","axis":null},"text":{"field":"t"}}}
]
}
]
}
